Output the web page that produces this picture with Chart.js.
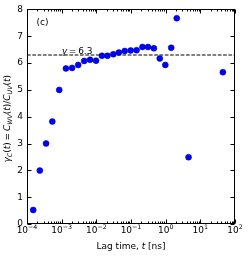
<!DOCTYPE html>
<html><head><meta charset="utf-8">
<script src="https://cdn.jsdelivr.net/npm/chart.js@4/dist/chart.umd.min.js"></script>
<style>html,body{margin:0;padding:0;background:#fff;overflow:hidden}#wrap{width:249px;height:256px}</style>
</head><body><div id="wrap"><canvas id="c" width="249" height="256"></canvas></div>
<script>
// ---- data ----
const lagTimes = [1.51e-4, 2.34e-4, 3.55e-4, 5.37e-4, 8.5e-4, 1.33e-3, 2.0e-3, 3.0e-3, 4.47e-3, 6.6e-3, 9.8e-3,
  0.0145, 0.0209, 0.0309, 0.0447, 0.066, 0.098, 0.145, 0.214, 0.309, 0.457, 0.676, 0.977, 1.445, 2.09, 4.57, 44.7];
const gammaValues = [0.52, 1.99, 3.00, 3.82, 5.00, 5.80, 5.82, 5.93, 6.08, 6.12, 6.09,
  6.27, 6.27, 6.33, 6.39, 6.45, 6.47, 6.48, 6.60, 6.60, 6.55, 6.17, 5.93, 6.57, 7.67, 2.49, 5.66];
const gammaRef = 6.3;
const refLineX = [1e-4, 1e2];
const xTickValues = [1e-4, 1e-3, 1e-2, 1e-1, 1e0, 1e1, 1e2];
const xTickBase = '10';
const xTickExps = ['\u22124', '\u22123', '\u22122', '\u22121', '0', '1', '2'];
const yTickValues = [0, 1, 2, 3, 4, 5, 6, 7, 8];
const yTickLabels = ['0', '1', '2', '3', '4', '5', '6', '7', '8'];
const panelLabel = '(c)';
const refLabel = [['\u03B3', true], ['\u2009=\u20096.3', false]];
const xTitle = [['Lag time, ', false], ['t', true], [' [ns]', false]];
const yTitle = [['\u03B3', true, 0], ['C', true, 1], ['(', false, 0], ['t', true, 0], [')\u2009=\u2009', false, 0],
  ['C', true, 0], ['WV', true, 1], ['(', false, 0], ['t', true, 0], [')/', false, 0],
  ['C', true, 0], ['UV', true, 1], ['(', false, 0], ['t', true, 0], [')', false, 0]];

const FONT = 'DejaVu Sans';
function fontStr(size, it) { return (it ? 'italic ' : '') + size + 'px "' + FONT + '"'; }

function drawRich(ctx, segs, size, x, y, align) {
  // segs: [text, italic, shift] shift: 1 = subscript, -1 = superscript
  let w = 0;
  const parts = segs.map(s => {
    const sz = s[2] ? size * 0.7 : size;
    ctx.font = fontStr(sz, s[1]);
    const m = ctx.measureText(s[0]).width;
    w += m;
    return { t: s[0], f: ctx.font, w: m, dy: s[2] === 1 ? size * 0.22 : (s[2] === -1 ? -size * 0.42 : 0) };
  });
  let cx = align === 'center' ? x - w / 2 : x;
  parts.forEach(p => { ctx.font = p.f; ctx.fillText(p.t, cx, y + p.dy); cx += p.w; });
}

const decor = {
  id: 'decor',
  afterDatasetsDraw(chart) {
    const { ctx, chartArea: a, scales: { x, y } } = chart;
    ctx.save();
    ctx.strokeStyle = '#000';
    ctx.lineWidth = 1;
    const L = Math.round(a.left) + 0.5, R = Math.round(a.right) - 0.5;
    const T = Math.round(a.top) + 0.5, B = Math.round(a.bottom) - 0.5;
    ctx.beginPath();
    for (let e = -4; e <= 2; e++) {
      for (let k = 1; k <= 9; k++) {
        const v = k * Math.pow(10, e);
        if (v > 100.0001) break;
        const px = Math.round(x.getPixelForValue(v)) + 0.5;
        const len = k === 1 ? 4 : 2;
        ctx.moveTo(px, B); ctx.lineTo(px, B - len);
        ctx.moveTo(px, T); ctx.lineTo(px, T + len);
      }
    }
    yTickValues.forEach(v => {
      const py = Math.round(y.getPixelForValue(v)) + 0.5;
      ctx.moveTo(L, py); ctx.lineTo(L + 4, py);
      ctx.moveTo(R, py); ctx.lineTo(R - 4, py);
    });
    ctx.stroke();
    ctx.strokeRect(L, T, R - L, B - T);
    ctx.fillStyle = '#000';
    // x tick labels: 10 with raised exponent
    ctx.textBaseline = 'alphabetic';
    xTickValues.forEach((v, i) => {
      drawRich(ctx, [[xTickBase, false, 0], [xTickExps[i], false, -1]], 9, x.getPixelForValue(v), a.bottom + 9, 'center');
    });
    ctx.textBaseline = 'middle';
    ctx.font = fontStr(9, false);
    ctx.fillText(panelLabel, a.left + 9.5, a.top + 13.5);
    ctx.textBaseline = 'alphabetic';
    drawRich(ctx, refLabel.map(s => [s[0], s[1], 0]), 9, x.getPixelForValue(1e-3), y.getPixelForValue(gammaRef) - 1.5, 'left');
    drawRich(ctx, xTitle.map(s => [s[0], s[1], 0]), 9, (a.left + a.right) / 2, 248.5, 'center');
    ctx.translate(10, (a.top + a.bottom) / 2 + 2);
    ctx.rotate(-Math.PI / 2);
    drawRich(ctx, yTitle, 9, 0, 0, 'center');
    ctx.restore();
  }
};

new Chart(document.getElementById('c'), {
  data: {
    datasets: [
      { type: 'scatter', data: lagTimes.map((t, i) => ({ x: t, y: gammaValues[i] })),
        backgroundColor: '#0000ff', borderColor: '#00008b', borderWidth: 0.5, pointRadius: 3, order: 0 },
      { type: 'line', data: refLineX.map(t => ({ x: t, y: gammaRef })), borderColor: '#000', borderWidth: 1,
        borderDash: [3.7, 1.6], pointRadius: 0, fill: false, order: 1 }
    ]
  },
  options: {
    responsive: false, animation: false, devicePixelRatio: 1,
    layout: { padding: { top: 9, right: 14, left: 0, bottom: 0 } },
    plugins: { legend: { display: false }, tooltip: { enabled: false } },
    scales: {
      x: {
        type: 'logarithmic', min: 1e-4, max: 1e2, position: 'bottom',
        afterBuildTicks: s => { s.ticks = xTickValues.map(v => ({ value: v })); },
        afterFit: s => { s.height = 32; },
        grid: { display: false, drawTicks: false }, border: { display: false },
        ticks: { display: false }
      },
      y: {
        type: 'linear', min: 0, max: 8,
        afterBuildTicks: s => { s.ticks = yTickValues.map(v => ({ value: v })); },
        afterFit: s => { s.width = 27; },
        grid: { display: false, drawTicks: false }, border: { display: false },
        ticks: { autoSkip: false, padding: 4, color: '#000', font: { family: FONT, size: 9 },
          callback: (v, i) => yTickLabels[i] }
      }
    }
  },
  plugins: [decor]
});
</script>
</body></html>
